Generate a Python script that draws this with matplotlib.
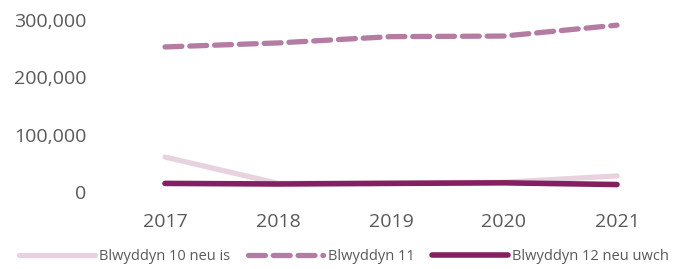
import numpy as np
import matplotlib.pyplot as plt
from matplotlib.ticker import FuncFormatter

# Data
years = ['2017', '2018', '2019', '2020', '2021']
blwyddyn_10 = [61000, 15000, 16000, 17000, 28000]
blwyddyn_11 = [253000, 260000, 271000, 272000, 291000]
blwyddyn_12 = [15000, 14000, 15000, 16000, 13000]

labels = ['Blwyddyn 10 neu is', 'Blwyddyn 11', 'Blwyddyn 12 neu uwch']
colors = ['#e8d2df', '#b47ca3', '#84205f']

plt.rcParams['font.family'] = ['Open Sans', 'DejaVu Sans']

fig = plt.figure(figsize=(6.81, 2.69), dpi=100)
ax = fig.add_axes([108.5 / 681, 77 / 269, 565 / 681, 172 / 269])

x = np.arange(len(years))
ax.plot(x, blwyddyn_10, color=colors[0], lw=3.8, solid_capstyle='round', label=labels[0])
ax.plot(x, blwyddyn_11, color=colors[1], lw=3.8, dashes=(3.2, 1.5), dash_capstyle='round', label=labels[1])
ax.plot(x, blwyddyn_12, color=colors[2], lw=4.0, solid_capstyle='round', label=labels[2])

ax.set_xlim(-0.5, len(years) - 0.5)
ax.set_ylim(0, 300000)
ax.set_xticks(x)
ax.set_xticklabels(years)
ax.set_yticks([0, 100000, 200000, 300000])
ax.yaxis.set_major_formatter(FuncFormatter(lambda v, p: f'{int(v):,}'))
ax.tick_params(length=0, labelsize=14, labelcolor='#595959')
ax.tick_params(axis='x', pad=15)
ax.tick_params(axis='y', pad=16)
for s in ax.spines.values():
    s.set_visible(False)

fig.legend(loc='lower center', bbox_to_anchor=(0.505, -0.03), ncol=3, frameon=False,
           fontsize=10.5, handlelength=5.2, handletextpad=0.3, columnspacing=1.2,
           labelcolor='#595959')

fig.savefig('out.png', dpi=100)
